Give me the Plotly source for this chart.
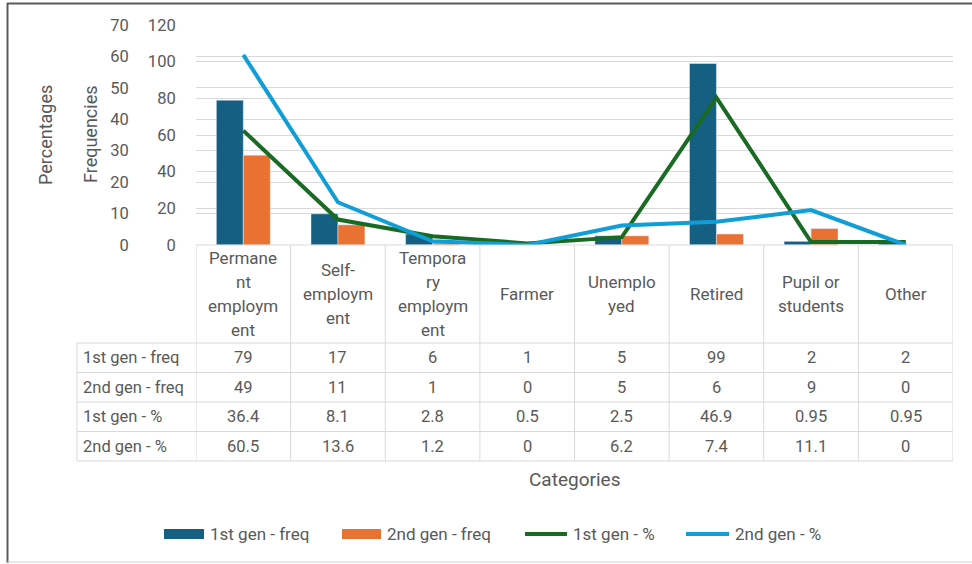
import plotly.graph_objects as go

# ---- data -------------------------------------------------------------
categories = ["Permanent employment", "Self-employment", "Temporary employment",
              "Farmer", "Unemployed", "Retired", "Pupil or students", "Other"]
# header text as it wraps inside the table cells
category_lines = [["Permane", "nt", "employm", "ent"],
                  ["Self-", "employm", "ent"],
                  ["Tempora", "ry", "employm", "ent"],
                  ["Farmer"],
                  ["Unemplo", "yed"],
                  ["Retired"],
                  ["Pupil or", "students"],
                  ["Other"]]
freq_1st = [79, 17, 6, 1, 5, 99, 2, 2]
freq_2nd = [49, 11, 1, 0, 5, 6, 9, 0]
pct_1st = [36.4, 8.1, 2.8, 0.5, 2.5, 46.9, 0.95, 0.95]
pct_2nd = [60.5, 13.6, 1.2, 0, 6.2, 7.4, 11.1, 0]

series_names = ["1st gen - freq", "2nd gen - freq", "1st gen - %", "2nd gen - %"]
freq_ticks = [0, 20, 40, 60, 80, 100, 120]
pct_ticks = [0, 10, 20, 30, 40, 50, 60, 70]

# ---- style ------------------------------------------------------------
C_BLUE = "#156082"
C_ORANGE = "#E97132"
C_GREEN = "#196B24"
C_SKY = "#0F9ED5"
TXT = "#595959"
GRID = "#d9d9d9"
FONT = "Roboto"

W, H = 972, 564


def fx(p):
    return p / W


def fy(p):
    return 1 - p / H


PLOT_L, PLOT_R, PLOT_T, PLOT_B = 196, 953, 25, 245
TABLE_L = 77
HEADER_B = 343
ROW_H = 29.5

fig = go.Figure()

fig.add_trace(go.Bar(x=categories, y=freq_1st, name=series_names[0],
                     marker_color=C_BLUE, showlegend=False))
fig.add_trace(go.Bar(x=categories, y=freq_2nd, name=series_names[1],
                     marker_color=C_ORANGE, showlegend=False))
fig.add_trace(go.Scatter(x=categories, y=pct_1st, name=series_names[2], mode="lines",
                         line=dict(color=C_GREEN, width=4), yaxis="y2",
                         showlegend=False))
fig.add_trace(go.Scatter(x=categories, y=pct_2nd, name=series_names[3], mode="lines",
                         line=dict(color=C_SKY, width=4), yaxis="y2",
                         showlegend=False))

shapes = []
annotations = []

# ---- data table under the plot ------------------------------------
row_data = [freq_1st, freq_2nd, pct_1st, pct_2nd]
line_style = dict(color=GRID, width=1)

# top border of the category header cells
shapes.append(dict(type="line", xref="paper", yref="paper",
                   x0=fx(PLOT_L), x1=fx(PLOT_R), y0=fy(PLOT_B), y1=fy(PLOT_B),
                   line=line_style))
# horizontal row borders
for r in range(len(row_data) + 1):
    yy = HEADER_B + r * ROW_H
    shapes.append(dict(type="line", xref="paper", yref="paper",
                       x0=fx(TABLE_L), x1=fx(PLOT_R), y0=fy(yy), y1=fy(yy),
                       line=line_style))
table_bottom = HEADER_B + len(row_data) * ROW_H
# left border of the row-label column
shapes.append(dict(type="line", xref="paper", yref="paper",
                   x0=fx(TABLE_L), x1=fx(TABLE_L), y0=fy(HEADER_B), y1=fy(table_bottom),
                   line=line_style))
# column borders aligned with the category axis
for i in range(len(categories) + 1):
    shapes.append(dict(type="line", xref="x", yref="paper",
                       x0=i - 0.5, x1=i - 0.5, y0=fy(PLOT_B), y1=fy(table_bottom),
                       line=line_style))

# header cells (wrapped category names)
header_mid = (PLOT_B + HEADER_B) / 2
for cat, lines in zip(categories, category_lines):
    n = len(lines)
    for j, txt in enumerate(lines):
        annotations.append(dict(x=cat, xref="x", yref="paper", y=fy(header_mid),
                                yshift=-(j - (n - 1) / 2) * 24,
                                text=txt, showarrow=False, xanchor="center",
                                yanchor="middle",
                                font=dict(family=FONT, size=17, color=TXT)))

# body rows
for r, (label, vals) in enumerate(zip(series_names, row_data)):
    yc = HEADER_B + (r + 0.5) * ROW_H
    annotations.append(dict(x=fx(TABLE_L + 4), xref="paper", yref="paper", y=fy(yc),
                            text=label, showarrow=False, xanchor="left",
                            yanchor="middle",
                            font=dict(family=FONT, size=16.5, color=TXT)))
    for cat, v in zip(categories, vals):
        annotations.append(dict(x=cat, xref="x", yref="paper", y=fy(yc),
                                text=f"{v:g}", showarrow=False, xanchor="center",
                                yanchor="middle",
                                font=dict(family=FONT, size=16.5, color=TXT)))

# x axis title
annotations.append(dict(x=fx((PLOT_L + PLOT_R) / 2), y=fy(479), xref="paper", yref="paper",
                        text="Categories", showarrow=False, yanchor="middle",
                        font=dict(family=FONT, size=19, color=TXT)))
# y axis titles
annotations.append(dict(x=fx(45), y=fy(135), xref="paper", yref="paper",
                        text="Percentages", textangle=-90, showarrow=False,
                        xanchor="center", yanchor="middle",
                        font=dict(family=FONT, size=18, color=TXT)))
annotations.append(dict(x=fx(90), y=fy(135), xref="paper", yref="paper",
                        text="Frequencies", textangle=-90, showarrow=False,
                        xanchor="center", yanchor="middle",
                        font=dict(family=FONT, size=18, color=TXT)))

# ---- legend -------------------------------------------------------
LEG_Y = 534
legend_items = [
    (series_names[0], C_BLUE, "rect", 164, 204),
    (series_names[1], C_ORANGE, "rect", 342, 381),
    (series_names[2], C_GREEN, "line", 525, 567),
    (series_names[3], C_SKY, "line", 686, 729),
]
for name, color, kind, x0, x1 in legend_items:
    if kind == "rect":
        shapes.append(dict(type="rect", xref="paper", yref="paper",
                           x0=fx(x0), x1=fx(x1), y0=fy(LEG_Y - 5), y1=fy(LEG_Y + 5),
                           fillcolor=color, line=dict(width=0)))
    else:
        shapes.append(dict(type="line", xref="paper", yref="paper",
                           x0=fx(x0), x1=fx(x1), y0=fy(LEG_Y), y1=fy(LEG_Y),
                           line=dict(color=color, width=4)))
    annotations.append(dict(x=fx(x1 + 4), y=fy(LEG_Y), xref="paper", yref="paper",
                            text=name, showarrow=False, xanchor="left", yanchor="middle",
                            font=dict(family=FONT, size=17, color=TXT)))

# ---- chart frame --------------------------------------------------
shapes.append(dict(type="line", xref="paper", yref="paper", x0=fx(7.5), x1=fx(7.5),
                   y0=fy(3), y1=fy(563), line=dict(color="#5a5a5a", width=2)))
shapes.append(dict(type="line", xref="paper", yref="paper", x0=fx(7), x1=1,
                   y0=fy(3.5), y1=fy(3.5), line=dict(color="#5a5a5a", width=2)))
shapes.append(dict(type="line", xref="paper", yref="paper", x0=fx(7), x1=1,
                   y0=fy(562), y1=fy(562), line=dict(color="#d0d0d0", width=1)))

axis_common = dict(automargin=False, zeroline=False, showline=False, fixedrange=True)

fig.update_layout(
    width=W, height=H,
    margin=dict(l=0, r=0, t=0, b=0, pad=0),
    paper_bgcolor="white", plot_bgcolor="white",
    barmode="group", bargap=0.43, bargroupgap=0,
    showlegend=False,
    font=dict(family=FONT, color=TXT),
    xaxis=dict(domain=[fx(PLOT_L), fx(PLOT_R)], range=[-0.5, 7.5],
               showticklabels=False, showgrid=False, **axis_common),
    yaxis=dict(domain=[fy(PLOT_B), fy(PLOT_T)], range=[0, 120], tickvals=freq_ticks,
               showgrid=True, gridcolor=GRID, gridwidth=1,
               ticks="outside", ticklen=16, tickcolor="rgba(0,0,0,0)",
               tickfont=dict(family=FONT, size=16.5, color=TXT), **axis_common),
    yaxis2=dict(overlaying="y", side="left", anchor="free", position=fx(148),
                range=[0, 70], tickvals=pct_ticks,
                showgrid=True, gridcolor=GRID, gridwidth=1,
                ticks="outside", ticklen=16, tickcolor="rgba(0,0,0,0)",
                tickfont=dict(family=FONT, size=16.5, color=TXT), **axis_common),
    shapes=shapes,
    annotations=annotations,
)

fig.write_html("out.html")
